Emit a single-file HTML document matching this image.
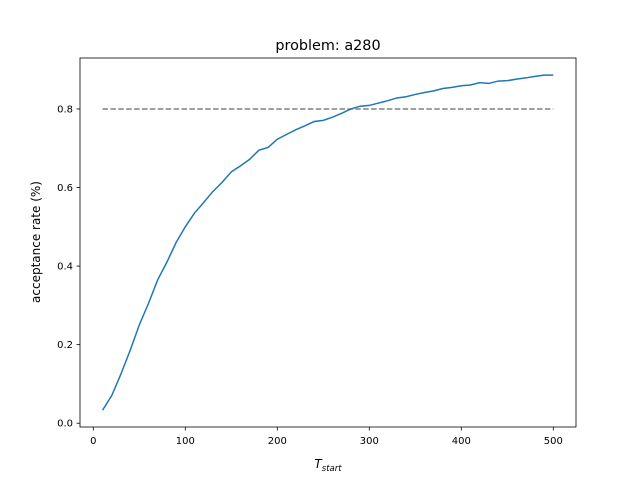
<!DOCTYPE html>
<html><head><meta charset="utf-8"><style>
body{margin:0;background:#fff}
svg{display:block;font-family:"DejaVu Sans","Liberation Sans",sans-serif}
</style></head><body>
<svg id="chart" width="640" height="480" xmlns="http://www.w3.org/2000/svg">
<rect width="640" height="480" fill="#fff"/>
<text x="328" y="50" font-size="14.4" text-anchor="middle">problem: a280</text>
<g id="plot"></g>
<rect x="80" y="58" width="496" height="369" fill="none" stroke="#000" stroke-width="0.8"/>
<text transform="translate(40,242) rotate(-90)" font-size="12" text-anchor="middle">acceptance rate (%)</text>
<text x="328" y="468" font-size="12" text-anchor="middle"><tspan font-style="italic">T</tspan><tspan font-size="8.5" dy="3" font-style="italic">start</tspan></text>
</svg>
<script>
const xs=[10,20,30,40,50,60,70,80,90,100,110,120,130,140,150,160,170,180,190,200,210,220,230,240,250,260,270,280,290,300,310,320,330,340,350,360,370,380,390,400,410,420,430,440,450,460,470,480,490,500];
const rates=[0.033,0.07,0.125,0.185,0.25,0.305,0.365,0.41,0.46,0.50,0.535,0.562,0.59,0.613,0.64,0.655,0.672,0.695,0.702,0.723,0.735,0.747,0.757,0.768,0.771,0.779,0.789,0.80,0.807,0.809,0.815,0.821,0.828,0.831,0.837,0.842,0.846,0.852,0.855,0.859,0.861,0.867,0.865,0.871,0.872,0.876,0.879,0.883,0.886,0.886];
const threshold=[0.8];
const xTicks=[0,100,200,300,400,500];
const yTicks=[0.0,0.2,0.4,0.6,0.8];
const X=v=>93.3+v*0.92;
const Y=v=>423.2-v*392.8;
const NS="http://www.w3.org/2000/svg";
const g=document.getElementById('plot');
function mk(t,a){const e=document.createElementNS(NS,t);for(const k in a)e.setAttribute(k,a[k]);g.appendChild(e);return e;}
xTicks.forEach(v=>{
 const l=mk('line',{x1:X(v),x2:X(v),y1:427,y2:430.5,stroke:'#000','stroke-width':0.8});
 
 
 const t=mk('text',{x:X(v),y:444,'font-size':10,'text-anchor':'middle'});t.textContent=v;
 
 
});
yTicks.forEach(v=>{
 const l=mk('line',{x1:76.5,x2:80,y1:Y(v),y2:Y(v),stroke:'#000','stroke-width':0.8});
 
 
 const t=mk('text',{x:73,y:Y(v)+3.5,'font-size':10,'text-anchor':'end'});t.textContent=v.toFixed(1);
 
 
});
const d=mk('line',{x1:X(xs[0]),x2:X(xs[xs.length-1]),y1:Y(threshold[0]),y2:Y(threshold[0]),stroke:'#808080','stroke-width':1.5,'stroke-dasharray':'5.5,2.4'});


const p=mk('polyline',{points:xs.map((x,i)=>X(x)+','+Y(rates[i])).join(' '),fill:'none',stroke:'#1f77b4','stroke-width':1.5});


</script>
</body></html>
